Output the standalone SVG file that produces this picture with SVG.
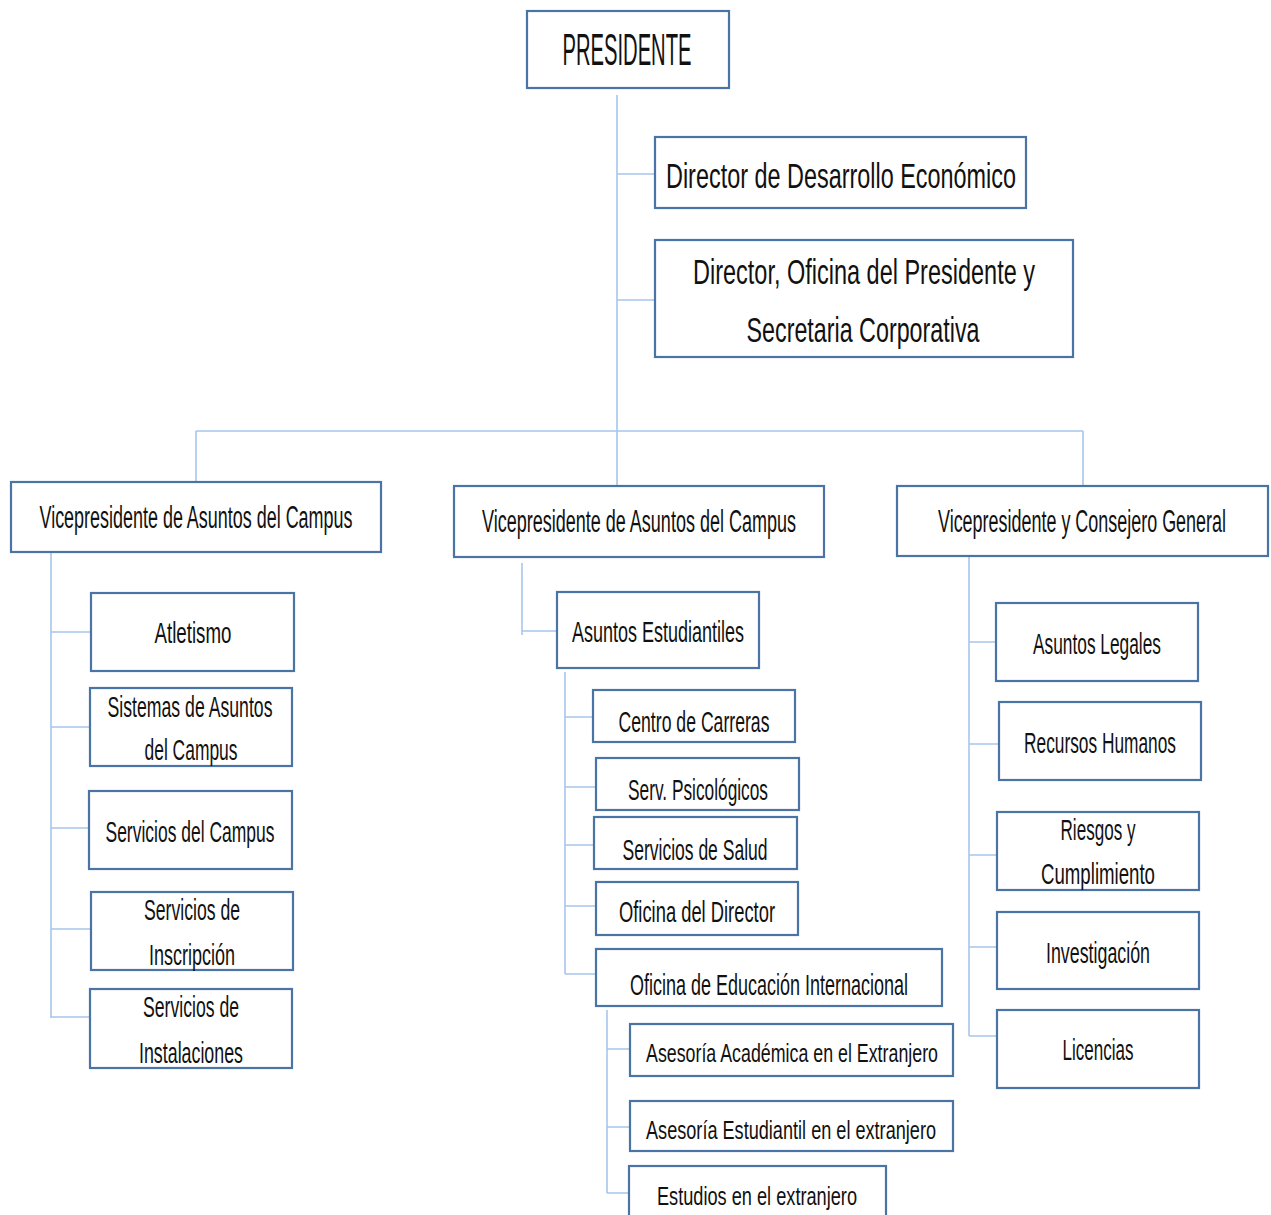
<svg xmlns="http://www.w3.org/2000/svg" width="1271" height="1215" viewBox="0 0 1271 1215">
<style>
.box{fill:#fff;stroke:#4a74a6;stroke-width:2.2}
.conn{stroke:#a6c6ea;stroke-width:1.6;fill:none}
text{font-family:"Liberation Sans",Arial,sans-serif;fill:#111;text-anchor:middle}
.t29{font-size:29px}.t30{font-size:30px}.t26{font-size:26px}.t31{font-size:31px}.t35{font-size:35px}.t44{font-size:44px}
</style>
<rect width="1271" height="1215" fill="#fff"/>
<g id="connectors">
<path class="conn" d="M617 95V485M617 174H655M617 300H655M196 431H1083M196 431V482M1083 431V486"/>
<path class="conn" d="M51 552V1018M51 632H91M51 727H90M51 828H89M51 929H91M51 1017H90"/>
<path class="conn" d="M522 563V635M522 631H557"/>
<path class="conn" d="M565 672V974M565 717H593M565 787H596M565 845H594M565 906H596M565 974H596"/>
<path class="conn" d="M607 1010V1193M607 1049H630M607 1127H630M607 1193H629"/>
<path class="conn" d="M969 557V1036M969 642H996M969 744H999M969 855H997M969 947H997M969 1036H997"/>
</g>
<g id="presidente"><rect class="box" x="527" y="11" width="202" height="77"/><text class="t44" x="627" y="65" textLength="129" lengthAdjust="spacingAndGlyphs">PRESIDENTE</text></g>
<g id="dir-desarrollo"><rect class="box" x="655" y="137" width="371" height="71"/><text class="t35" x="841" y="188" textLength="350" lengthAdjust="spacingAndGlyphs">Director de Desarrollo Económico</text></g>
<g id="dir-oficina"><rect class="box" x="655" y="240" width="418" height="117"/><text class="t35" x="864" y="284" textLength="342" lengthAdjust="spacingAndGlyphs">Director, Oficina del Presidente y</text><text class="t35" x="863" y="342" textLength="233" lengthAdjust="spacingAndGlyphs">Secretaria Corporativa</text></g>
<g id="vp-left"><rect class="box" x="11" y="482" width="370" height="70"/><text class="t31" x="196" y="528" textLength="313" lengthAdjust="spacingAndGlyphs">Vicepresidente de Asuntos del Campus</text></g>
<g id="vp-mid"><rect class="box" x="454" y="486" width="370" height="71"/><text class="t31" x="639" y="532" textLength="314" lengthAdjust="spacingAndGlyphs">Vicepresidente de Asuntos del Campus</text></g>
<g id="vp-right"><rect class="box" x="897" y="486" width="371" height="70"/><text class="t31" x="1082" y="532" textLength="288" lengthAdjust="spacingAndGlyphs">Vicepresidente y Consejero General</text></g>
<g id="atletismo"><rect class="box" x="91" y="593" width="203" height="78"/><text class="t29" x="193" y="643" textLength="77" lengthAdjust="spacingAndGlyphs">Atletismo</text></g>
<g id="sistemas"><rect class="box" x="90" y="688" width="202" height="78"/><text class="t30" x="190" y="717" textLength="165" lengthAdjust="spacingAndGlyphs">Sistemas de Asuntos</text><text class="t30" x="191" y="760" textLength="93" lengthAdjust="spacingAndGlyphs">del Campus</text></g>
<g id="servicios-campus"><rect class="box" x="89" y="791" width="203" height="78"/><text class="t30" x="190" y="842" textLength="169" lengthAdjust="spacingAndGlyphs">Servicios del Campus</text></g>
<g id="inscripcion"><rect class="box" x="91" y="892" width="202" height="78"/><text class="t30" x="192" y="920" textLength="96" lengthAdjust="spacingAndGlyphs">Servicios de</text><text class="t30" x="192" y="965" textLength="86" lengthAdjust="spacingAndGlyphs">Inscripción</text></g>
<g id="instalaciones"><rect class="box" x="90" y="989" width="202" height="79"/><text class="t30" x="191" y="1017" textLength="96" lengthAdjust="spacingAndGlyphs">Servicios de</text><text class="t30" x="191" y="1063" textLength="104" lengthAdjust="spacingAndGlyphs">Instalaciones</text></g>
<g id="asuntos-estudiantiles"><rect class="box" x="557" y="592" width="202" height="76"/><text class="t30" x="658" y="642" textLength="172" lengthAdjust="spacingAndGlyphs">Asuntos Estudiantiles</text></g>
<g id="centro-carreras"><rect class="box" x="593" y="690" width="202" height="52"/><text class="t30" x="694" y="732" textLength="151" lengthAdjust="spacingAndGlyphs">Centro de Carreras</text></g>
<g id="serv-psico"><rect class="box" x="596" y="758" width="203" height="52"/><text class="t30" x="698" y="800" textLength="140" lengthAdjust="spacingAndGlyphs">Serv. Psicológicos</text></g>
<g id="serv-salud"><rect class="box" x="594" y="817" width="203" height="52"/><text class="t30" x="695" y="860" textLength="145" lengthAdjust="spacingAndGlyphs">Servicios de Salud</text></g>
<g id="oficina-director"><rect class="box" x="596" y="882" width="202" height="53"/><text class="t30" x="697" y="922" textLength="156" lengthAdjust="spacingAndGlyphs">Oficina del Director</text></g>
<g id="oei"><rect class="box" x="596" y="949" width="346" height="57"/><text class="t30" x="769" y="995" textLength="278" lengthAdjust="spacingAndGlyphs">Oficina de Educación Internacional</text></g>
<g id="asesoria-academica"><rect class="box" x="630" y="1024" width="323" height="52"/><text class="t26" x="792" y="1062" textLength="292" lengthAdjust="spacingAndGlyphs">Asesoría Académica en el Extranjero</text></g>
<g id="asesoria-estudiantil"><rect class="box" x="630" y="1101" width="323" height="50"/><text class="t26" x="791" y="1139" textLength="290" lengthAdjust="spacingAndGlyphs">Asesoría Estudiantil en el extranjero</text></g>
<g id="estudios"><rect class="box" x="629" y="1166" width="257" height="60"/><text class="t26" x="757" y="1205" textLength="200" lengthAdjust="spacingAndGlyphs">Estudios en el extranjero</text></g>
<g id="asuntos-legales"><rect class="box" x="996" y="603" width="202" height="78"/><text class="t29" x="1097" y="654" textLength="128" lengthAdjust="spacingAndGlyphs">Asuntos Legales</text></g>
<g id="recursos-humanos"><rect class="box" x="999" y="702" width="202" height="78"/><text class="t29" x="1100" y="753" textLength="152" lengthAdjust="spacingAndGlyphs">Recursos Humanos</text></g>
<g id="riesgos"><rect class="box" x="997" y="812" width="202" height="78"/><text class="t29" x="1098" y="840" textLength="75" lengthAdjust="spacingAndGlyphs">Riesgos y</text><text class="t29" x="1098" y="884" textLength="114" lengthAdjust="spacingAndGlyphs">Cumplimiento</text></g>
<g id="investigacion"><rect class="box" x="997" y="912" width="202" height="77"/><text class="t29" x="1098" y="963" textLength="104" lengthAdjust="spacingAndGlyphs">Investigación</text></g>
<g id="licencias"><rect class="box" x="997" y="1010" width="202" height="78"/><text class="t29" x="1098" y="1060" textLength="71" lengthAdjust="spacingAndGlyphs">Licencias</text></g>
</svg>
